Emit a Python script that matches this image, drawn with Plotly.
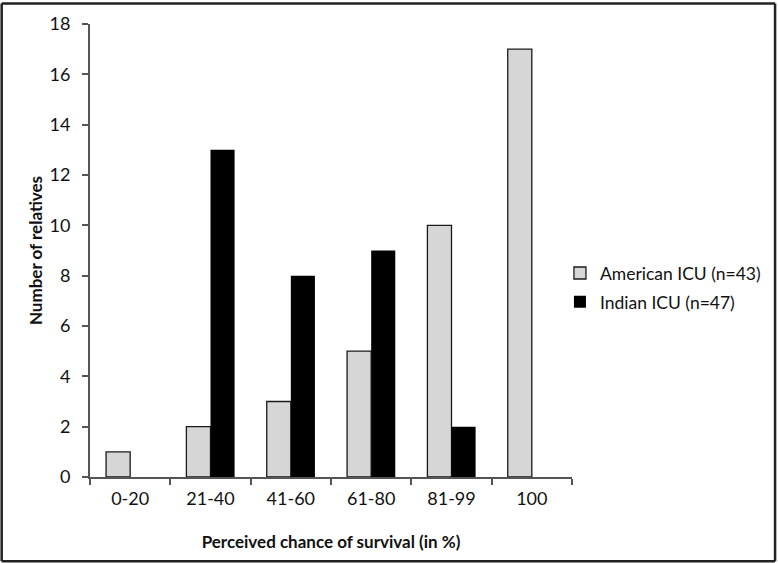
import plotly.graph_objects as go

categories = ["0-20", "21-40", "41-60", "61-80", "81-99", "100"]
american = [1, 2, 3, 5, 10, 17]
indian = [0, 13, 8, 9, 2, 0]
y_ticks = [0, 2, 4, 6, 8, 10, 12, 14, 16, 18]

W, H = 778, 563
ml, mr, mt, mb = 90, 205, 22, 86
pw, ph = W - ml - mr, H - mt - mb

fig = go.Figure()
fig.add_trace(go.Bar(x=categories, y=american, name="American ICU (n=43)", legendgroup="a",
                     marker=dict(color="#d6d6d6", line=dict(color="#1a1a1a", width=1.3))))
fig.add_trace(go.Bar(x=categories, y=indian, name="Indian ICU (n=47)", legendgroup="b",
                     marker=dict(color="#000000", line=dict(color="#000000", width=0))))

font = "Lato, 'Open Sans', sans-serif"
fig.update_layout(
    width=W, height=H,
    margin=dict(l=ml, r=mr, t=mt, b=mb),
    paper_bgcolor="white", plot_bgcolor="white",
    barmode="group", bargap=0.4, bargroupgap=0,
    font=dict(family=font, size=18, color="#111111"),
    showlegend=True,
    legend=dict(x=0.975, y=0.418, xanchor="left", yanchor="middle",
                font=dict(size=17.5, color="#111111"), itemwidth=30,
                tracegroupgap=3, bgcolor="rgba(0,0,0,0)"),
    xaxis=dict(type="category", tickson="boundaries", ticks="outside", ticklen=6,
               tickcolor="#555555", tickwidth=2, showline=True, linecolor="#555555",
               linewidth=2, showgrid=False, ticklabelstandoff=4,
               tickfont=dict(size=18),
               title=dict(text="<b>Perceived chance of survival (in %)</b>",
                          font=dict(size=17), standoff=29)),
    yaxis=dict(range=[0, 18], tickvals=y_ticks, ticks="outside", ticklen=6,
               tickcolor="#555555", tickwidth=2, showline=True, linecolor="#555555",
               linewidth=2, showgrid=False, zeroline=False, ticklabelstandoff=8,
               tickfont=dict(size=18),
               title=dict(text="<b>Number of relatives</b>", font=dict(size=17), standoff=3)),
)

# outer frame of the image, drawn as four edges
xl, xr = (1.5 - ml) / pw, (W - 1.5 - ml) / pw
yb, yt = -(mb - 1.5) / ph, (ph + mt - 1.5) / ph
frame = dict(color="#222222", width=2.5)
for x0, y0, x1, y1 in [(xl, yt, xr, yt), (xl, yb, xr, yb), (xl, yb, xl, yt), (xr, yb, xr, yt)]:
    fig.add_shape(type="line", xref="paper", yref="paper", x0=x0, y0=y0, x1=x1, y1=y1,
                  line=frame, layer="above")

fig.write_html("out.html", config={"displayModeBar": False},
               post_script="document.body.style.margin='0';")
